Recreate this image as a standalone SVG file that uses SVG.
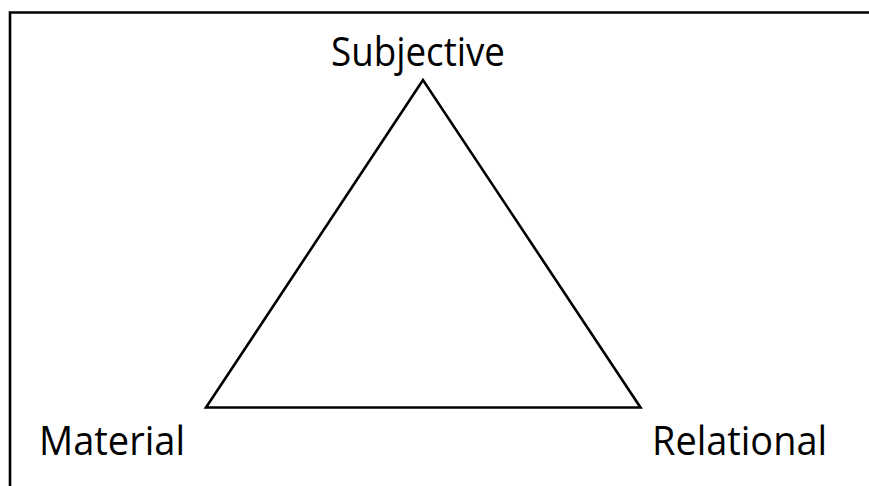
<svg xmlns="http://www.w3.org/2000/svg" width="869" height="486" viewBox="0 0 869 486">
<style>
  .lbl { font-family: "Open Sans", "Liberation Sans", sans-serif; font-size: 40px; fill: #000; }
  .edge { fill: none; stroke: #000; stroke-width: 2.6; stroke-linejoin: miter; }
</style>
<rect width="869" height="486" fill="#fff"/>
<path d="M10,486 V12.5 H869" fill="none" stroke="#000" stroke-width="2.6"/>
<g id="connectors">
  <path class="edge" d="M423,80 L206,407.5 L640.5,407.5 Z"/>
</g>
<g id="subjective"><text class="lbl" x="331" y="66" textLength="174" lengthAdjust="spacingAndGlyphs">Subjective</text></g>
<g id="material"><text class="lbl" x="39" y="455" textLength="146" lengthAdjust="spacingAndGlyphs">Material</text></g>
<g id="relational"><text class="lbl" x="652" y="455" textLength="175" lengthAdjust="spacingAndGlyphs">Relational</text></g>
</svg>
